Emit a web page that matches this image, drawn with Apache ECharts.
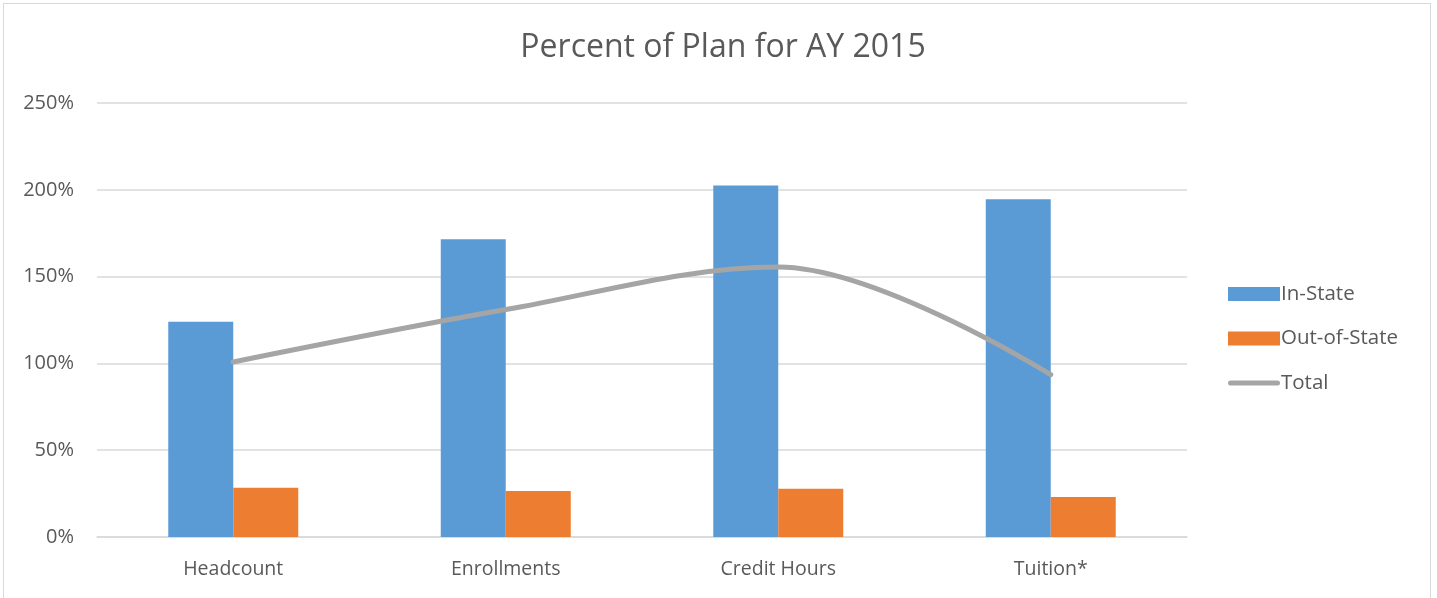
<!DOCTYPE html>
<html><head><meta charset="utf-8">
<script src="https://cdn.jsdelivr.net/npm/echarts@6/dist/echarts.min.js"></script>
<style>
html,body{margin:0;padding:0;background:#fff;}
#frame{position:absolute;left:3px;top:3px;width:1428px;height:600px;border:1px solid #d9d9d9;box-sizing:border-box;}
#c{position:absolute;left:0;top:0;width:1437px;height:598px;}
</style></head>
<body>
<div id="frame"></div>
<div id="c"></div>
<script>
const categories = ['Headcount', 'Enrollments', 'Credit Hours', 'Tuition*'];
const inState = [124, 171.5, 202.5, 194.5];
const outState = [28.3, 26.5, 27.8, 23];
const total = [100.8, 131, 155.5, 93.5];
const yTicks = [0, 50, 100, 150, 200, 250];

const chart = echarts.init(document.getElementById('c'));
const font = '"Open Sans", "Noto Sans", sans-serif';
chart.setOption({
  animation: false,
  textStyle: {fontFamily: font},
  title: {text: 'Percent of Plan for AY 2015', left: 718, top: 27, textAlign: 'center',
    textStyle: {fontFamily: font, fontSize: 32, fontWeight: 'normal', color: '#595959'}},
  grid: {left: 97, right: 250, top: 103, bottom: 61},
  legend: {orient: 'vertical', left: 1223, top: 278.5, itemGap: 23.5, itemWidth: 52, itemHeight: 14,
    textStyle: {fontFamily: font, fontSize: 20.5, color: '#595959', padding: [0,0,0,-4]},
    data: [{name: 'In-State', icon: 'rect'}, {name: 'Out-of-State', icon: 'rect'},
      {name: 'Total', icon: 'path://M2.5,0 H49.5 A2.5,2.5 0 0 1 49.5,5 H2.5 A2.5,2.5 0 0 1 2.5,0 Z'}]},
  xAxis: {type: 'category', data: categories,
    axisLine: {lineStyle: {color: '#d9d9d9', width: 1.5}}, axisTick: {show: false},
    axisLabel: {fontFamily: font, fontSize: 19.5, color: '#595959', margin: 22}},
  yAxis: {type: 'value', min: 0, max: 250, interval: 50,
    axisLine: {show: false}, axisTick: {show: false},
    splitLine: {lineStyle: {color: '#d9d9d9', width: 1.5}},
    axisLabel: {fontFamily: font, fontSize: 20, color: '#595959', margin: 23,
      formatter: v => yTicks.includes(v) ? v + '%' : ''}},
  series: [
    {name: 'In-State', type: 'bar', data: inState, barWidth: 65, barGap: '0%',
      itemStyle: {color: '#5b9bd5'}},
    {name: 'Out-of-State', type: 'bar', data: outState, barWidth: 65,
      itemStyle: {color: '#ed7d31'}},
    {name: 'Total', type: 'line', data: total, smooth: 0.35, symbol: 'none',
      lineStyle: {color: '#a5a5a5', width: 5, cap: 'round'}, itemStyle: {color: '#a5a5a5'}}
  ]
});
</script>
</body></html>
